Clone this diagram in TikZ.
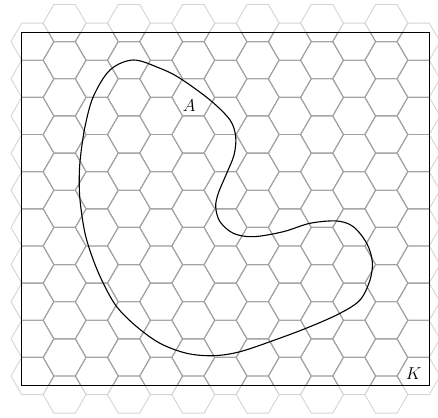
\documentclass[tikz,border=0pt]{standalone}
\tikzset{
  hexin/.style={draw=black!36, line width=0.9pt},
  hexout/.style={draw=black!17, line width=0.9pt},
  frame/.style={draw=black, line width=1.3pt},
  region/.style={draw=black, line width=1.1pt},
  lbl/.style={font=\fontsize{19}{22}\selectfont, inner sep=0pt},
  hexunits/.style={shift={(21.7pt,31.7pt)}, x=21.45pt, y=21.45pt},
  pxunits/.style={shift={(0pt,417pt)}, x=1pt, y=-1pt},
}
\newcommand{\onehex}[3]{\draw[#1] ({#2+1},{#3}) -- ++(-0.5,0.8660254) -- ++(-1,0) -- ++(-0.5,-0.8660254) -- ++(0.5,-0.8660254) -- ++(1,0) -- cycle;}
\newcommand{\hexgrid}[1]{%
  \foreach \i in {0,2,...,12}{\foreach \j in {0,...,9}{%
    \pgfmathsetmacro{\cx}{0.5+1.5*\i}\pgfmathsetmacro{\cy}{(0.5+2*\j)*0.8660254}%
    \onehex{#1}{\cx}{\cy}}}%
  \foreach \i in {1,3,...,11}{\foreach \j in {0,...,10}{%
    \pgfmathsetmacro{\cx}{0.5+1.5*\i}\pgfmathsetmacro{\cy}{(2*\j-0.5)*0.8660254}%
    \onehex{#1}{\cx}{\cy}}}%
}
\begin{document}
\begin{tikzpicture}
\useasboundingbox (0,0) rectangle (438pt,417pt);
\begin{scope}
  \clip (0,0) rectangle (438pt,417pt);
  \begin{scope}[hexunits]
    \hexgrid{hexout}
  \end{scope}
\end{scope}
\begin{scope}[hexunits]
  \coordinate (sw) at (0,0);
  \coordinate (ne) at (19,16.4545);
  \begin{scope}
    \clip (sw) rectangle (ne);
    \hexgrid{hexin}
  \end{scope}
  \draw[frame] (sw) rectangle (ne);
  \coordinate (se) at (19,0);
  \node[lbl, anchor=center] (K) at ([shift={(-0.72,0.53)}]se) {$K$};
\end{scope}
\begin{scope}[pxunits]
  \draw[region] plot[smooth cycle, tension=0.55] coordinates {
    (133.3,60) (160,68.3) (180,78.3) (210,100) (230,120) (235.7,137) (234,155)
    (226.7,173.3) (218.3,193.3) (215.7,207) (220,221.7) (233.3,233.3) (253.3,236.7)
    (283.3,231.7) (310,223.3) (336.7,221) (353.3,226.7) (366.7,243.3) (372.3,261.7)
    (370,280) (360,300) (340,313.3) (310,326.7) (276.7,339.3) (240,351.7)
    (213.3,355.7) (186.7,353.3) (160,343.3) (136.7,326.7) (116.7,306.7) (103.3,283.3)
    (93.3,260) (85,233.3) (80,200) (79.3,175) (80.7,155) (85,126.7) (93.3,96.7) (110,70)};
  \node[lbl] (A) at (189.3,106) {$A$};
\end{scope}
\end{tikzpicture}
\end{document}
